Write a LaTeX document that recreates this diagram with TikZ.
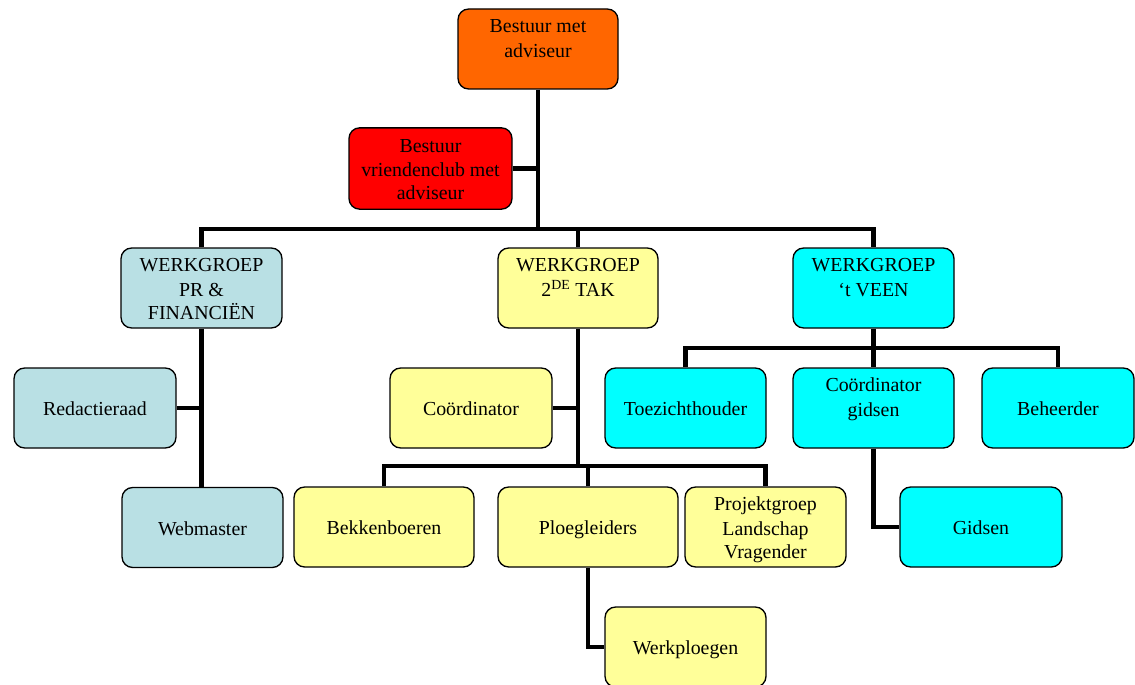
\documentclass[tikz,border=0pt]{standalone}
\usepackage{fontspec}
\setmainfont{Liberation Serif}
\definecolor{cOrange}{HTML}{FF6600}
\definecolor{cRed}{HTML}{FF0000}
\definecolor{cBlue}{HTML}{B9E0E4}
\definecolor{cYellow}{HTML}{FFFF99}
\definecolor{cCyan}{HTML}{00FFFF}
\newcommand\tp{\rule[-5.2pt]{0pt}{21.8pt}}
\tikzset{
  box/.style={draw=black, line width=1pt, rounded corners=8pt, align=center,
    inner sep=0pt, minimum width=#1*0.75pt, minimum height=60pt,
    font=\fontsize{14.9}{17.3}\selectfont},
  box/.default=161,
  conn/.style={draw=black, line width=3.2pt},
}
\begin{document}
\begin{tikzpicture}[x=0.75pt,y=-0.75pt]
\useasboundingbox (0,0) rectangle (1135,685);
\clip (0,0) rectangle (1135,685);

% level 1
\node[box=160, fill=cOrange] (top) at (538,49) {\tp Bestuur met\\adviseur\strut\\\strut};
\node[box=163, fill=cRed, minimum height=61pt] (vc) at (430.5,168.5) {\tp Bestuur\\vriendenclub met\strut\\adviseur\strut};

% level 2
\node[box=161, fill=cBlue] (pr) at (201.5,288) {\tp WERKGROEP\\PR \&\strut\\FINANCIËN\strut};
\node[box=160, fill=cYellow] (tak) at (578,288) {\tp WERKGROEP\\2\textsuperscript{DE} TAK\strut\\\strut};
\node[box=161, fill=cCyan] (veen) at (873.5,288) {\tp WERKGROEP\\‘t VEEN\strut\\\strut};

% level 3
\node[box=162, fill=cBlue] (red) at (95,408) {\tp Redactieraad};
\node[box=162, fill=cYellow] (coord) at (471,408) {\tp Coördinator};
\node[box=161, fill=cCyan] (toez) at (685.5,408) {\tp Toezichthouder};
\node[box=161, fill=cCyan] (cgid) at (873.5,408) {\tp Coördinator\\gidsen\strut\\\strut};
\node[box=152, fill=cCyan] (beh) at (1058,408) {\tp Beheerder};

% level 4
\node[box=161, fill=cBlue] (web) at (202.5,527.5) {\tp Webmaster};
\node[box=180, fill=cYellow] (bek) at (384,527) {\tp Bekkenboeren};
\node[box=180, fill=cYellow] (ploeg) at (588,527) {\tp Ploegleiders};
\node[box=161, fill=cYellow] (proj) at (765.5,527) {\tp Projektgroep\\Landschap\strut\\Vragender\strut};
\node[box=162, fill=cCyan] (gids) at (981,527) {\tp Gidsen};

% level 5
\node[box=161, fill=cYellow] (werk) at (685.5,647) {\tp Werkploegen};

% junctions
\coordinate (j0) at (538,229);
\coordinate (j1) at (578,466);
\coordinate (j2) at (873.5,348);

% connectors: top
\draw[conn] (top.south) -- (j0);
\draw[conn] (vc.east) -- (vc.east -| j0);
\draw[conn] (pr.north) |- (j0) -| (veen.north);
\draw[conn] (tak.north) -- (tak.north |- j0);

% PR branch
\draw[conn] (pr.south) -- (pr.south |- web.north);
\draw[conn] (red.east) -- (red.east -| pr.south);

% 2DE TAK branch
\draw[conn] (tak.south) -- (j1);
\draw[conn] (coord.east) -- (coord.east -| tak.south);
\draw[conn] (bek.north) |- (j1) -| (proj.north);
\draw[conn] (ploeg.north) -- (ploeg.north |- j1);
\draw[conn] (ploeg.south) |- (werk.west);

% VEEN branch
\draw[conn] (veen.south) -- (cgid.north);
\draw[conn] (toez.north) |- (j2) -| (beh.north);
\draw[conn] (cgid.south) |- (gids.west);
\end{tikzpicture}
\end{document}
